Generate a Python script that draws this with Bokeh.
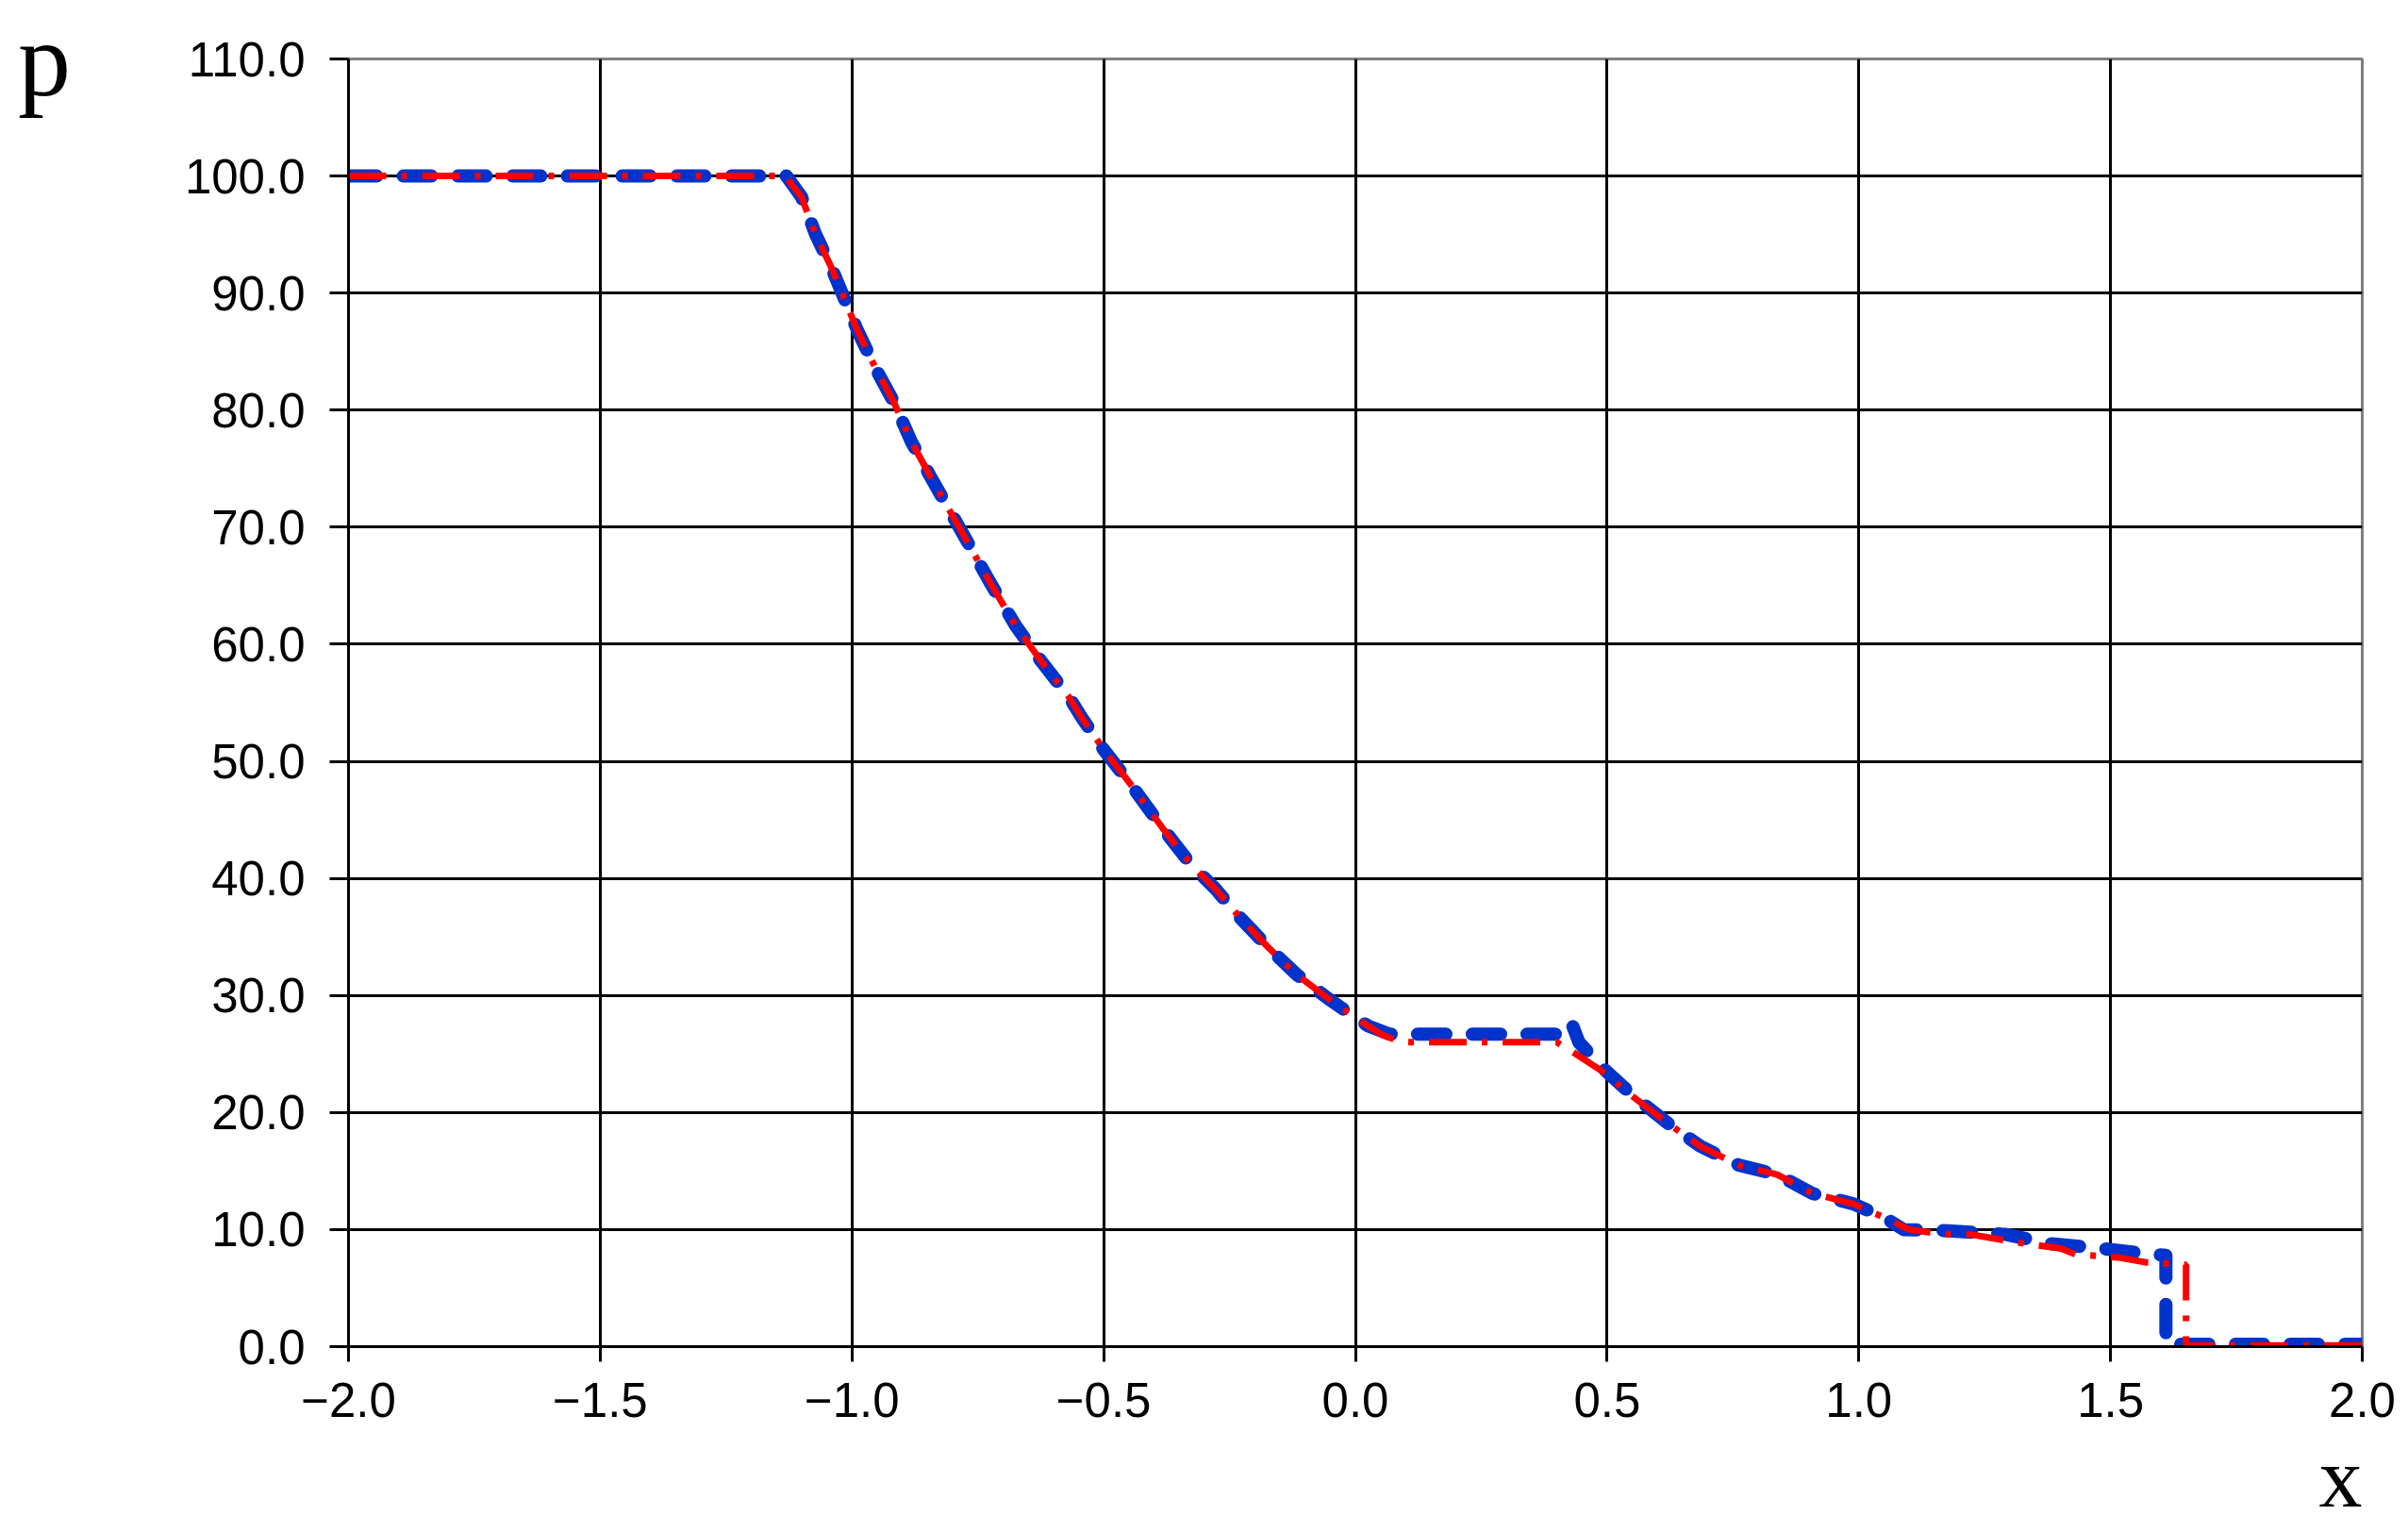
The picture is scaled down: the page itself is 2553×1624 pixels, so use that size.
from bokeh.plotting import figure
from bokeh.models import FixedTicker, Range1d
from bokeh.embed import file_html
from bokeh.resources import INLINE

# ---- data ----
x_red = [-2.0, -1.133, -1.10, -1.073, -1.039, -1.011, -0.989, -0.951, -0.917, -0.882,
         -0.845, -0.807, -0.766, -0.726, -0.675, -0.625, -0.569, -0.543, -0.5, -0.451,
         -0.383, -0.327, -0.278, -0.228, -0.173, -0.117, -0.056, 0.0, 0.025, 0.055,
         0.093, 0.40, 0.431, 0.4875, 0.55, 0.623, 0.686, 0.762, 0.838, 0.907,
         0.989, 1.052, 1.10, 1.165, 1.22, 1.33, 1.40, 1.43, 1.52, 1.57,
         1.65, 1.65, 2.0]
p_red = [100.0, 100.0, 98.2, 95.1, 92.0, 89.1, 86.8, 83.4, 80.7, 77.3,
         74.4, 71.5, 68.4, 65.3, 61.6, 58.6, 55.5, 53.7, 51.0, 48.3,
         44.3, 41.2, 39.1, 36.6, 34.1, 31.8, 29.8, 28.1, 27.4, 26.6,
         26.0, 26.0, 25.2, 23.6, 21.4, 19.0, 17.1, 15.5, 14.7, 13.1,
         12.2, 11.0, 10.0, 9.6, 9.6, 8.8, 8.4, 7.9, 7.6, 7.2,
         7.0, 0.1, 0.1]

x_blue = [-2.0, -1.13, -1.10, -1.073, -1.039, -1.011, -0.989, -0.951, -0.917, -0.882,
          -0.845, -0.807, -0.766, -0.726, -0.675, -0.625, -0.569, -0.543, -0.5, -0.451,
          -0.383, -0.327, -0.278, -0.228, -0.173, -0.117, -0.056, 0.0, 0.025, 0.068,
          0.40, 0.428, 0.444, 0.494, 0.55, 0.623, 0.686, 0.762, 0.838, 0.907,
          0.989, 1.052, 1.089, 1.178, 1.29, 1.38, 1.48, 1.58, 1.61, 1.61,
          2.0]
p_blue = [100.0, 100.0, 98.2, 95.1, 92.0, 89.1, 86.8, 83.4, 80.7, 77.3,
          74.4, 71.5, 68.4, 65.3, 61.6, 58.6, 55.5, 53.7, 51.0, 48.3,
          44.3, 41.2, 39.1, 36.6, 34.1, 31.8, 29.8, 28.1, 27.4, 26.7,
          26.7, 27.8, 26.0, 23.7, 21.5, 19.0, 17.1, 15.5, 14.7, 13.1,
          12.2, 11.0, 10.0, 9.9, 9.6, 8.8, 8.4, 7.9, 7.8, 0.2,
          0.2]

x_ticks = [-2.0, -1.5, -1.0, -0.5, 0.0, 0.5, 1.0, 1.5, 2.0]
x_tick_labels = ["\u22122.0", "\u22121.5", "\u22121.0", "\u22120.5", "0.0", "0.5", "1.0", "1.5", "2.0"]
y_ticks = [0, 10, 20, 30, 40, 50, 60, 70, 80, 90, 100, 110]
y_tick_labels = ["0.0", "10.0", "20.0", "30.0", "40.0", "50.0", "60.0", "70.0", "80.0", "90.0", "100.0", "110.0"]

fig = figure(width=2553, height=1620, output_backend="svg", toolbar_location=None,
             x_range=Range1d(-2.0, 2.0), y_range=Range1d(0, 110),
             min_border_left=369, min_border_right=49, min_border_top=62, min_border_bottom=193)

fig.background_fill_color = "white"
fig.border_fill_color = "white"
fig.outline_line_color = "#808080"
fig.outline_line_width = 3

# grids
fig.xgrid.ticker = FixedTicker(ticks=x_ticks[:-1])
fig.ygrid.ticker = FixedTicker(ticks=y_ticks[:-1])
for g in (fig.xgrid, fig.ygrid):
    g.grid_line_color = "black"
    g.grid_line_width = 3

# axes
fig.xaxis.ticker = FixedTicker(ticks=x_ticks)
fig.yaxis.ticker = FixedTicker(ticks=y_ticks)
fig.xaxis.major_label_overrides = {t: s for t, s in zip(x_ticks, x_tick_labels)}
fig.yaxis.major_label_overrides = {t: s for t, s in zip(y_ticks, y_tick_labels)}
for ax in (fig.xaxis, fig.yaxis):
    ax.axis_line_color = "black"
    ax.axis_line_width = 3
    ax.major_tick_line_color = "black"
    ax.major_tick_line_width = 3
    ax.major_tick_in = 0
    ax.minor_tick_line_color = None
    ax.major_label_text_font = "Liberation Sans"
    ax.major_label_text_font_size = "51px"
    ax.major_label_text_color = "black"
    ax.axis_label_text_font = "Liberation Serif"
    ax.axis_label_text_font_style = "normal"
    ax.axis_label_text_color = "black"
fig.yaxis.major_tick_out = 20
fig.yaxis.major_label_standoff = 26
fig.xaxis.major_tick_out = 16
fig.xaxis.major_label_standoff = 22

# axis names
fig.yaxis.axis_label = "p"
fig.yaxis.axis_label_orientation = "horizontal"
fig.yaxis.axis_label_align = "end"
fig.yaxis.axis_label_text_font_size = "112px"
fig.yaxis.axis_label_standoff = 118
fig.xaxis.axis_label = "x\u2002"
fig.xaxis.axis_label_align = "end"
fig.xaxis.axis_label_text_font_size = "92px"
fig.xaxis.axis_label_standoff = 10

# curves
fig.line(x_blue, p_blue, line_color="#0033cc", line_width=14, line_dash="30 28",
         line_cap="round", line_join="round")
fig.line(x_red, p_red, line_color="#ff0000", line_width=7, line_dash="40 16 6 16")

open("out.html", "w").write(file_html(fig, INLINE))
